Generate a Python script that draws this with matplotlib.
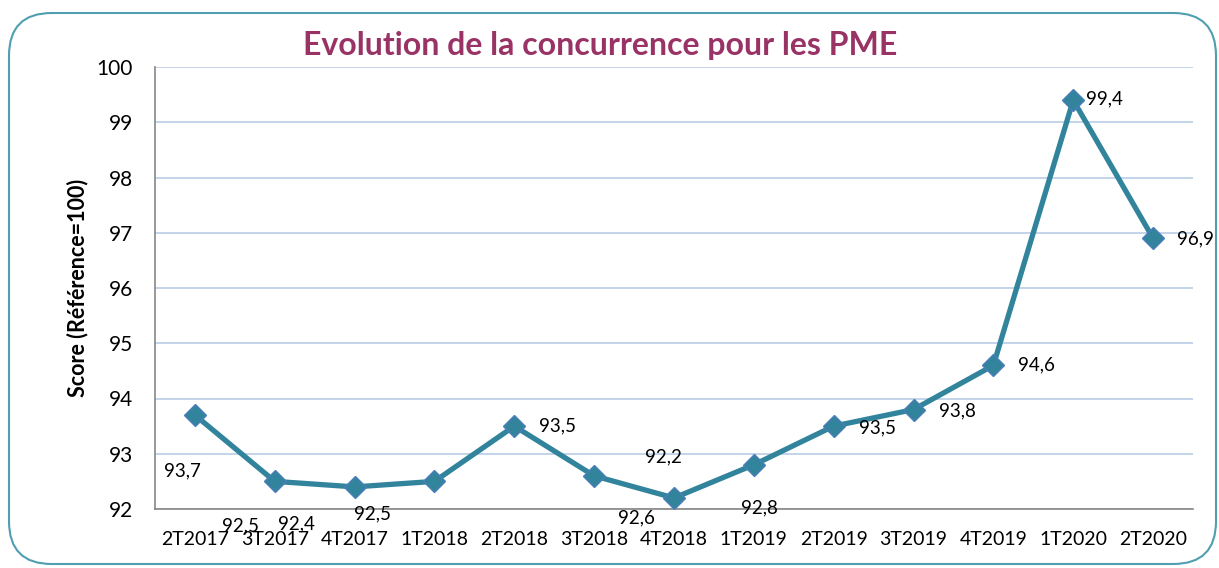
import matplotlib
matplotlib.use("Agg")
import matplotlib.pyplot as plt
from matplotlib.patches import FancyBboxPatch

categories = ["2T2017", "3T2017", "4T2017", "1T2018", "2T2018", "3T2018", "4T2018",
              "1T2019", "2T2019", "3T2019", "4T2019", "1T2020", "2T2020"]
scores = [93.7, 92.5, 92.4, 92.5, 93.5, 92.6, 92.2, 92.8, 93.5, 93.8, 94.6, 99.4, 96.9]
value_labels = ["93,7", "92,5", "92,4", "92,5", "93,5", "92,6", "92,2", "92,8",
                "93,5", "93,8", "94,6", "99,4", "96,9"]
yticks = [92, 93, 94, 95, 96, 97, 98, 99, 100]

# label offsets in pixels (dx, dy) relative to each point, as in the reference
label_offsets = [(-12, -56), (-34, -45), (-58, -37), (-62, -32), (43, 0), (42, -42),
                 (-11, 41), (6, -43), (44, -2), (44, -1), (43, 0), (31, 1), (42, -1)]

plt.rcParams['font.family'] = ['Lato', 'DejaVu Sans']

W, H = 1219, 568
fig = plt.figure(figsize=(W / 100, H / 100), dpi=100)

# rounded frame
frame = FancyBboxPatch((9 / W, 4 / H), (W - 12) / W, (H - 17) / H,
                       boxstyle="round,pad=0,rounding_size=0.035",
                       transform=fig.transFigure, facecolor="white",
                       edgecolor="#4F9FB0", linewidth=1.5, mutation_aspect=W / H,
                       zorder=-10)
fig.patches.append(frame)

ax = fig.add_axes([155 / W, 1 - 509 / H, (1193 - 155) / W, (509 - 67) / H])
ax.set_zorder(5)
ax.set_facecolor("none")
x = list(range(len(categories)))
ax.plot(x, scores, color="#31849B", linewidth=3.8, marker="D", markersize=11,
        markerfacecolor="#31849B", markeredgecolor="#4A7EBB", markeredgewidth=1.0,
        zorder=3)

for xi, yi, lab, (dx, dy) in zip(x, scores, value_labels, label_offsets):
    ax.annotate(lab, (xi, yi), xytext=(dx, dy), textcoords="offset pixels",
                ha="center", va="center", fontsize=13.5, color="black", zorder=4,
                annotation_clip=False)

ax.set_xlim(-0.5, len(categories) - 0.5)
ax.set_ylim(92, 100)
ax.set_yticks(yticks)
ax.set_yticklabels([str(t) for t in yticks], fontsize=15)
ax.set_xticks(x)
ax.set_xticklabels(categories, fontsize=14)
ax.tick_params(axis="y", length=0, pad=16)
ax.tick_params(axis="x", length=0, pad=16)
ax.yaxis.grid(True, color="#B9CDE5", linewidth=1.2)
ax.set_axisbelow(True)
for s in ["top", "right"]:
    ax.spines[s].set_visible(False)
for s in ["left", "bottom"]:
    ax.spines[s].set_color("#868686")
    ax.spines[s].set_linewidth(1.2)

ax.set_ylabel("Score (Référence=100)", fontsize=15.5, fontweight="bold", labelpad=6)

fig.text(600 / W, 1 - 45 / H, "Evolution de la concurrence pour les PME",
         ha="center", va="center", fontsize=23, fontweight="bold", color="#993366")

fig.savefig("out.png", dpi=100)
